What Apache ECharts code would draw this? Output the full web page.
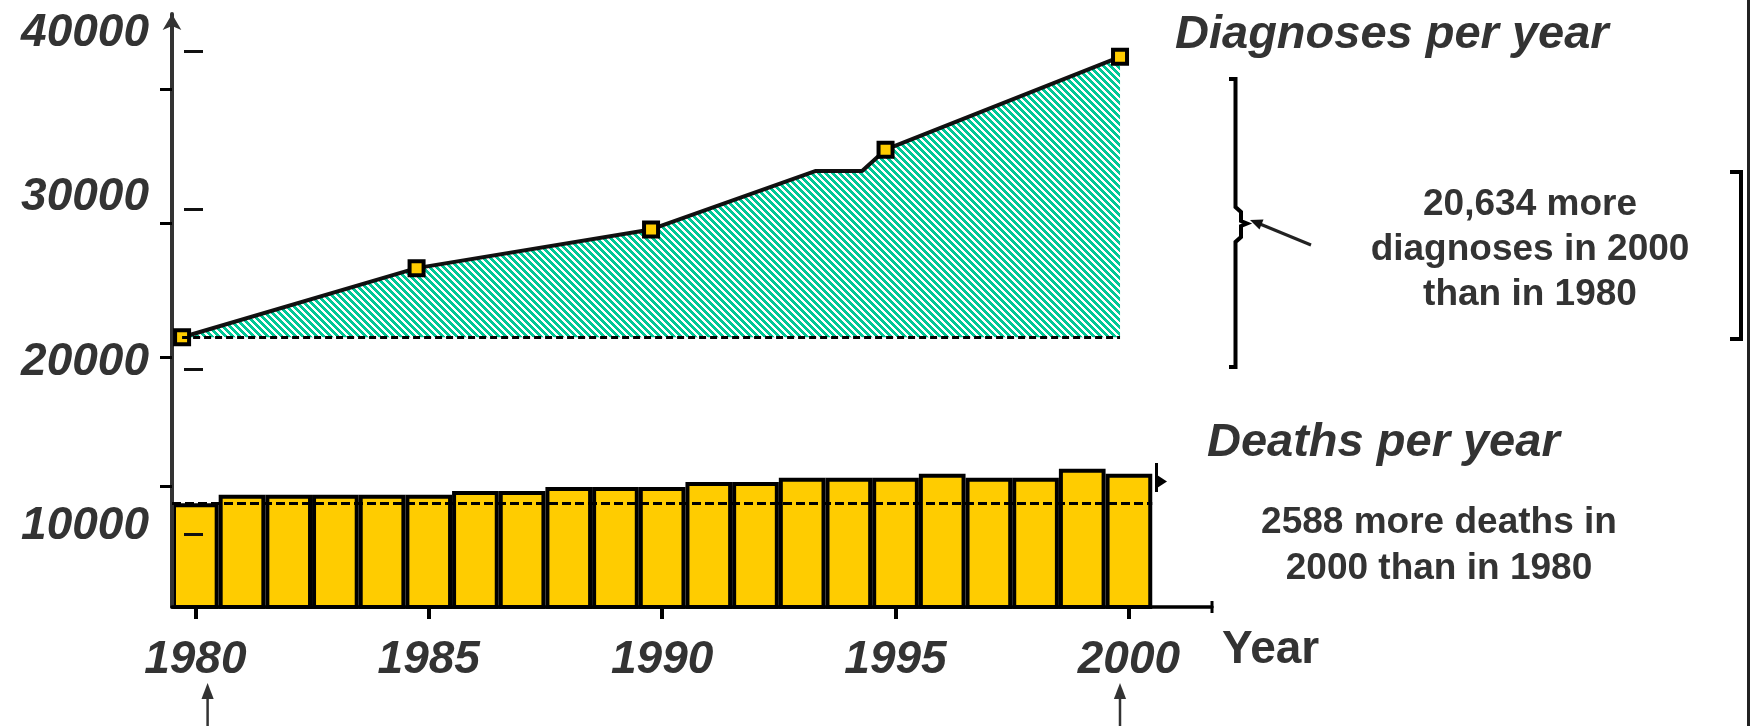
<!DOCTYPE html>
<html><head><meta charset="utf-8">
<script src="https://cdn.jsdelivr.net/npm/echarts@6/dist/echarts.min.js"></script>
<style>html,body{margin:0;padding:0;background:#fff}#c{width:1750px;height:726px}</style>
</head><body><div id="c"></div>
<script>
// ---- data ----
const years = [1980,1981,1982,1983,1984,1985,1986,1987,1988,1989,1990,1991,1992,1993,1994,1995,1996,1997,1998,1999,2000];
const deaths = [11400,11930,11930,11930,11930,11930,12150,12150,12400,12400,12400,12700,12700,12950,12950,12950,13200,12950,12950,13500,13200];
const diagYears = [1980,1985,1990,1993.5,1994.5,1995,2000];
const diagValues = [21500,25700,28050,31600,31600,32900,38550];
const markerYears = [1980,1985,1990,1995,2000];
const xTickYears = [1980,1985,1990,1995,2000];
const yLabelValues = [10000,20000,30000,40000];
const yOuterTicks = [12450,20300,28450,36550];
const yInnerDashes = [9550,19550,29250,38900];
const titleDiag = 'Diagnoses per year';
const titleDeaths = 'Deaths per year';
const noteDiag = '20,634 more\ndiagnoses in 2000\nthan in 1980';
const noteDeaths = '2588 more deaths in\n2000 than in 1980';
const xName = 'Year';

// ---- layout ----
const W = 1750, H = 726;
const gridLeft = 172, gridRight = 538, gridTop = 14, gridBottom = 119;
const yMin = 5100, yMax = 41150;
const xMin = 1979.5, xMax = 2001.78;
const x2Min = 1979.785, x2Max = 2001.961;
const FF = '"Liberation Sans", Arial, Helvetica, sans-serif';
const TXT = '#333333';
const barW = (W - gridLeft - gridRight) / (xMax - xMin);

// hatch pattern
const P = 7;
const pc = document.createElement('canvas'); pc.width = P; pc.height = P;
const g = pc.getContext('2d');
g.fillStyle = '#ffffff'; g.fillRect(0,0,P,P);
g.fillStyle = '#00C896';
for (let y = 0; y < P; y++) for (let x = 0; x < P; x++) if ((((x - y) % P) + P) % P < 4) g.fillRect(x, y, 1, 1);

const chart = echarts.init(document.getElementById('c'), null, {renderer: 'canvas'});

const diagData = diagYears.map((yr, i) => {
  const isMarker = markerYears.indexOf(yr) >= 0;
  return isMarker ? {value: [yr, diagValues[i]]} : {value: [yr, diagValues[i]], symbol: 'none'};
});

const option = {
  backgroundColor: '#ffffff',
  animation: false,
  grid: {left: gridLeft, right: gridRight, top: gridTop, bottom: gridBottom, containLabel: false},
  xAxis: [
    {
      type: 'value', min: xMin, max: xMax, position: 'bottom', z: 3,
      axisLine: {show: true, lineStyle: {color: '#000', width: 3.5}, symbol: ['none', 'rect'], symbolSize: [12, 3]},
      axisTick: {show: true, customValues: xTickYears, length: 12, lineStyle: {color: '#000', width: 4}},
      axisLabel: {customValues: xTickYears, formatter: v => String(v), margin: 30,
        fontSize: 46, fontWeight: 'bold', fontStyle: 'italic', fontFamily: FF, color: TXT},
      splitLine: {show: false}
    },
    {type: 'value', min: x2Min, max: x2Max, show: false}
  ],
  yAxis: [
    {
      type: 'value', min: yMin, max: yMax, position: 'left', z: 3,
      axisLine: {show: true, lineStyle: {color: '#333', width: 4}, symbol: ['none', 'arrow'], symbolSize: [14, 16]},
      axisTick: {show: true, customValues: yOuterTicks, length: 12, lineStyle: {color: '#000', width: 3}},
      axisLabel: {customValues: yLabelValues, formatter: v => String(v), margin: 23,
        fontSize: 46, fontWeight: 'bold', fontStyle: 'italic', fontFamily: FF, color: TXT},
      splitLine: {show: false}
    },
    {
      type: 'value', min: yMin, max: yMax, position: 'left', offset: -12, z: 6,
      axisLine: {show: false},
      axisTick: {show: true, inside: true, customValues: yInnerDashes, length: 19, lineStyle: {color: '#111', width: 3}},
      axisLabel: {show: false},
      splitLine: {show: false}
    }
  ],
  series: [
    {
      type: 'bar', xAxisIndex: 0, yAxisIndex: 0,
      data: years.map((yr, i) => [yr, deaths[i]]),
      barWidth: barW,
      itemStyle: {color: '#FFCC00', borderColor: '#000', borderWidth: 4},
      markLine: {
        silent: true, symbol: ['none', 'none'], label: {show: false},
        lineStyle: {color: '#000', width: 3, type: [9, 4]},
        data: [[{coord: [years[0] - 0.5, deaths[0]]}, {coord: [years[years.length - 1] + 0.5, deaths[0]]}]]
      },
      z: 2
    },
    {
      type: 'line', xAxisIndex: 1, yAxisIndex: 0,
      data: diagData,
      showAllSymbol: true,
      symbol: 'rect', symbolSize: 14,
      lineStyle: {color: '#111', width: 4},
      itemStyle: {color: '#FFCC00', borderColor: '#000', borderWidth: 4},
      areaStyle: {color: {image: pc, repeat: 'repeat'}, opacity: 1, origin: diagValues[0]},
      markLine: {
        silent: true, symbol: ['none', 'none'], label: {show: false},
        lineStyle: {color: '#000', width: 3, type: [7, 4]},
        data: [[{coord: [diagYears[0], diagValues[0]]}, {coord: [diagYears[diagYears.length - 1], diagValues[0]]}]]
      },
      z: 4
    }
  ],
  graphic: [
    {type: 'text', x: 1175, y: 35, style: {text: titleDiag, font: 'italic bold 47px ' + FF, fill: TXT, align: 'left', verticalAlign: 'middle', textAlign: 'left', textVerticalAlign: 'middle'}},
    {type: 'text', x: 1207, y: 443, style: {text: titleDeaths, font: 'italic bold 47px ' + FF, fill: TXT, align: 'left', verticalAlign: 'middle', textAlign: 'left', textVerticalAlign: 'middle'}},
    {type: 'text', x: 1222, y: 650, style: {text: xName, font: 'bold 46px ' + FF, fill: TXT, align: 'left', verticalAlign: 'middle', textAlign: 'left', textVerticalAlign: 'middle'}},
    {type: 'text', x: 1530, y: 250, style: {text: noteDiag, font: 'bold 37px ' + FF, fill: TXT, lineHeight: 45, align: 'center', verticalAlign: 'middle', textAlign: 'center', textVerticalAlign: 'middle'}},
    {type: 'text', x: 1439, y: 546, style: {text: noteDeaths, font: 'bold 37px ' + FF, fill: TXT, lineHeight: 46, align: 'center', verticalAlign: 'middle', textAlign: 'center', textVerticalAlign: 'middle'}},
    // curly brace
    {type: 'polyline', shape: {points: [[1229,79],[1235.5,79],[1235.5,207],[1241,212],[1241,221],[1247,223.5],[1241,226],[1241,237],[1235.5,242],[1235.5,367],[1229,367]]},
      style: {stroke: '#000', lineWidth: 4, fill: null}},
    // arrow to brace
    {type: 'line', shape: {x1: 1311, y1: 245, x2: 1260, y2: 224}, style: {stroke: '#222', lineWidth: 3}},
    {type: 'polygon', shape: {points: [[1250,220],[1263.5,219.5],[1259.5,229.5]]}, style: {fill: '#111'}},
    // right bracket
    {type: 'polyline', shape: {points: [[1730,172],[1741,172],[1741,339],[1730,339]]}, style: {stroke: '#000', lineWidth: 4, fill: null}},
    // right border
    {type: 'line', shape: {x1: 1748.5, y1: 0, x2: 1748.5, y2: 726}, style: {stroke: '#222', lineWidth: 3}},
    // bottom arrows
    {type: 'line', shape: {x1: 207.6, y1: 697, x2: 207.6, y2: 726}, style: {stroke: '#333', lineWidth: 2.5}},
    {type: 'polygon', shape: {points: [[207.6,683],[201.5,699],[213.7,699]]}, style: {fill: '#333'}},
    {type: 'line', shape: {x1: 1120, y1: 697, x2: 1120, y2: 726}, style: {stroke: '#333', lineWidth: 2.5}},
    {type: 'polygon', shape: {points: [[1120,683],[1113.9,699],[1126.1,699]]}, style: {fill: '#333'}},
    // small arrow at right end of deaths bars
    {type: 'line', shape: {x1: 1156.5, y1: 463, x2: 1156.5, y2: 492}, style: {stroke: '#000', lineWidth: 3}},
    {type: 'polygon', shape: {points: [[1167,481.5],[1157,475],[1157,488]]}, style: {fill: '#000'}}
  ]
};
chart.setOption(option);
</script>
</body></html>
